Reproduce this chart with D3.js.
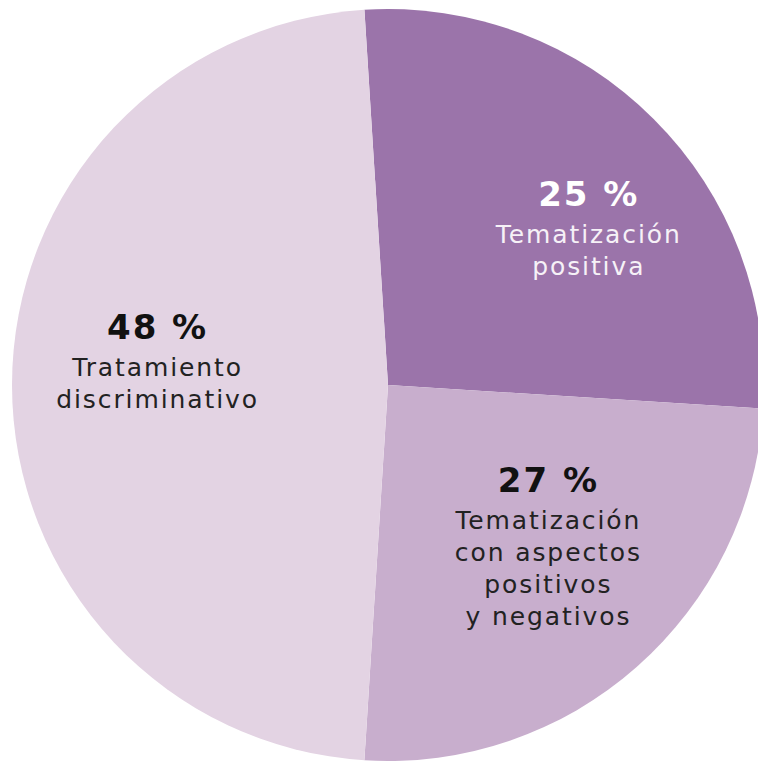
<!DOCTYPE html>
<html>
<head>
<meta charset="utf-8">
<script src="https://cdn.jsdelivr.net/npm/d3@7"></script>
<style>
  body { margin: 0; background: #fff; }
  svg { display: block; }
</style>
</head>
<body>
<svg id="chart"></svg>
<script>
// printed percentages and labels
const percents = [25, 27, 48];
const labels = [
  ["Tematización", "positiva"],
  ["Tematización", "con aspectos", "positivos", "y negativos"],
  ["Tratamiento", "discriminativo"]
];
// slice sizes as actually drawn in the picture (dark slice is the wider one)
const sliceShares = [27, 25, 48];
const colors = ["#9b74aa", "#c8aecd", "#e3d3e3"];
const numColors = ["#ffffff", "#111111", "#111111"];
const textColors = ["#f6f1f7", "#222222", "#222222"];

const width = 758, height = 762;
const cx = 388, cy = 385, radius = 376;

const svg = d3.select("#chart")
    .attr("width", width)
    .attr("height", height);

const g = svg.append("g")
    .attr("transform", `translate(${cx},${cy})`);

const startA = -3.6 * Math.PI / 180;

const pie = d3.pie()
    .sort(null)
    .value(d => d)
    .startAngle(startA)
    .endAngle(startA + 2 * Math.PI);

const arcs = pie(sliceShares);

const arc = d3.arc()
    .innerRadius(0)
    .outerRadius(radius);

g.selectAll("path")
    .data(arcs)
    .join("path")
    .attr("d", arc)
    .attr("fill", (d, i) => colors[i]);

// where the number's baseline sits: shift from mid angle (deg) and radius
const labelAngleShift = [3.2, -14.7, 11.3];
const labelRadius = [268, 192, 236];

arcs.forEach((d, i) => {
    const a = (d.startAngle + d.endAngle) / 2 + labelAngleShift[i] * Math.PI / 180;
    const x = Math.sin(a) * labelRadius[i];
    const y = -Math.cos(a) * labelRadius[i];

    g.append("text")
        .attr("x", x + 1)
        .attr("y", y)
        .attr("text-anchor", "middle")
        .attr("font-family", "'DejaVu Sans', sans-serif")
        .attr("font-size", 34)
        .attr("font-weight", 700)
        .attr("letter-spacing", 2)
        .attr("fill", numColors[i])
        .text(percents[i] + " %");

    g.append("g")
        .selectAll("text")
        .data(labels[i])
        .join("text")
        .attr("x", x + 1)
        .attr("y", (line, j) => y + 37 + j * 32)
        .attr("text-anchor", "middle")
        .attr("font-family", "'DejaVu Sans', sans-serif")
        .attr("font-size", 25)
        .attr("letter-spacing", 1.9)
        .attr("fill", textColors[i])
        .text(line => line);
});
</script>
</body>
</html>
